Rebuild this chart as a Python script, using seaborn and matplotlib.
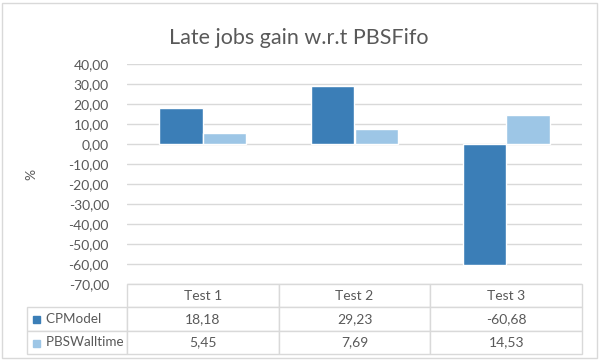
import numpy as np
import pandas as pd
import matplotlib.pyplot as plt
from matplotlib.patches import Rectangle
import seaborn as sns

tests = ['Test 1', 'Test 2', 'Test 3']
series = ['CPModel', 'PBSWalltime']
cpmodel = [18.18, 29.23, -60.68]
pbswalltime = [5.45, 7.69, 14.53]
yticks = list(range(-70, 50, 10))

dark = '#3B7EB7'
light = '#9DC6E6'
grey_txt = '#595959'
grid_c = '#D9D9D9'

df = pd.DataFrame({
    'test': tests * 2,
    'series': [series[0]] * 3 + [series[1]] * 3,
    'value': cpmodel + pbswalltime,
})

sns.set_style('white')
plt.rcParams['font.family'] = ['Lato', 'DejaVu Sans']

fig = plt.figure(figsize=(6, 3.6), dpi=100)
ax = fig.add_axes([127 / 600, 1 - 284 / 360, 455 / 600, 220 / 360])

sns.barplot(data=df, x='test', y='value', hue='series', palette=[dark, light],
            width=0.574, saturation=1, errorbar=None, legend=False, ax=ax, zorder=3)

ax.set_ylim(-70, 40)
ax.set_yticks(yticks)
ax.set_yticklabels([f'{v:.2f}'.replace('.', ',') for v in yticks], color=grey_txt, fontsize=10)
ax.tick_params(axis='y', length=0, pad=13)
ax.set_xticks([])
ax.set_xlabel('')
ax.set_ylabel('')
ax.grid(axis='y', color=grid_c, lw=1, zorder=0)
for s in ax.spines.values():
    s.set_visible(False)

fig.text(299 / 600, 1 - 38 / 360, 'Late jobs gain w.r.t PBSFifo', ha='center', va='center',
         fontsize=15.5, color=grey_txt)
fig.text(31 / 600, 1 - 174 / 360, '%', rotation=90, ha='center', va='center',
         fontsize=10, color=grey_txt)

# data table under the chart
fmt = lambda v: f'{v:.2f}'.replace('.', ',')
cells = [[''] + tests,
         ['    ' + series[0]] + [fmt(v) for v in cpmodel],
         ['    ' + series[1]] + [fmt(v) for v in pbswalltime]]
tab = ax.table(cellText=cells, colWidths=[100, 151.7, 151.7, 151.7],
               bbox=[-100 / 455, -70 / 220, 555 / 455, 70 / 220], cellLoc='center')
tab.auto_set_font_size(False)
for (r, c), cell in tab.get_celld().items():
    cell.set_edgecolor(grid_c)
    cell.set_linewidth(1)
    cell.get_text().set_color(grey_txt)
    cell.get_text().set_fontsize(10)
    if c == 0:
        cell.get_text().set_ha('left')
        cell.get_text().set_fontsize(9.7)
        cell._loc = 'left'
        cell.PAD = 0.05
    if r == 0 and c == 0:
        cell.visible_edges = ''

for i, col in enumerate([dark, light]):
    yc = 1 - (319 + 24 * i) / 360
    fig.patches.append(Rectangle((33 / 600, yc - 3.5 / 360), 7 / 600, 7 / 360,
                                 transform=fig.transFigure, color=col))

fig.patches.append(Rectangle((2 / 600, 2 / 360), 595 / 600, 355 / 360, transform=fig.transFigure,
                             fill=False, edgecolor=grid_c, lw=1))

fig.savefig('out.png', dpi=100)
